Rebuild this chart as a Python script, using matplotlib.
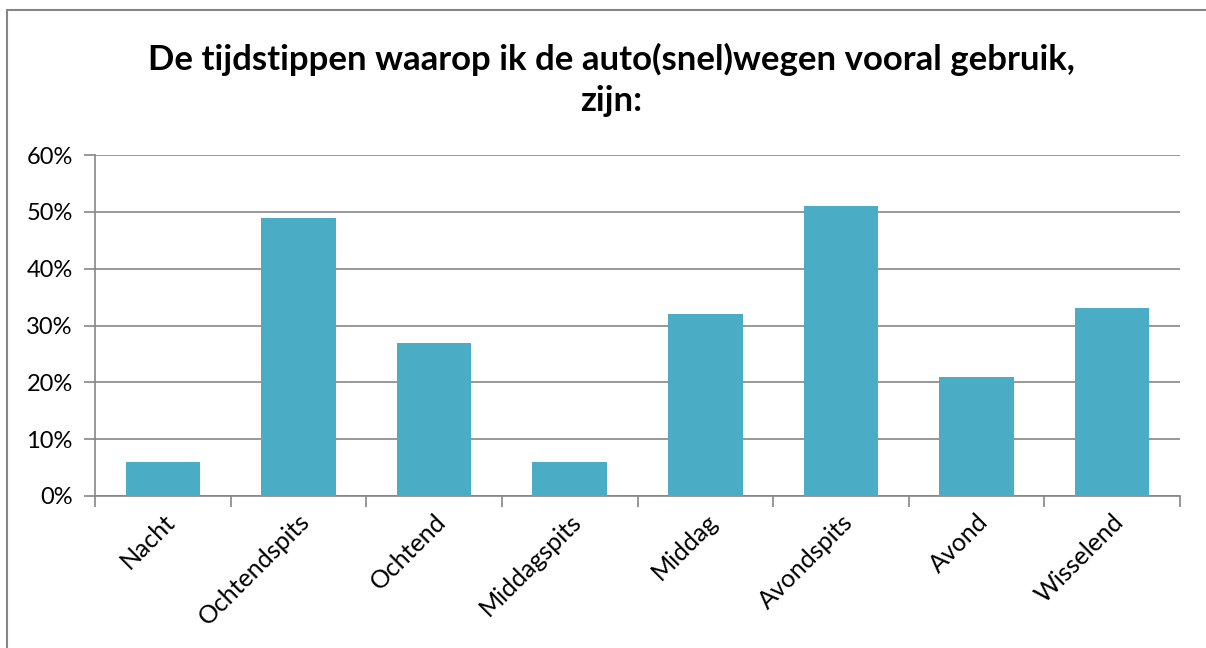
import numpy as np
import matplotlib.pyplot as plt
from matplotlib.patches import Rectangle

categories = ['Nacht', 'Ochtendspits', 'Ochtend', 'Middagspits', 'Middag',
              'Avondspits', 'Avond', 'Wisselend']
values = [0.06, 0.49, 0.27, 0.06, 0.32, 0.51, 0.21, 0.33]
yticks = [0, 0.1, 0.2, 0.3, 0.4, 0.5, 0.6]
ytick_labels = ['0%', '10%', '20%', '30%', '40%', '50%', '60%']

plt.rcParams['font.family'] = ['Lato', 'DejaVu Sans']

W, H = 1206, 648
fig = plt.figure(figsize=(W / 100, H / 100), dpi=100)

# outer chart frame (Excel-style)
fig.patches.append(Rectangle((7 / W, -0.05), 1.1, 1 - 10 / H + 0.05,
                             transform=fig.transFigure, fill=False,
                             ec='#868686', lw=1.5))

ax = fig.add_axes([95 / W, (H - 496) / H, (1180 - 95) / W, (496 - 155) / H])

x = np.arange(len(categories))
ax.bar(x, values, width=0.55, color='#4BACC6', zorder=3)

ax.set_xlim(-0.5, len(categories) - 0.5)
ax.set_ylim(0, 0.6)

ax.set_yticks(yticks)
ax.set_yticklabels(ytick_labels, fontsize=17)
ax.grid(axis='y', color='#868686', lw=1.2, zorder=0)

ax.set_xticks(x)
ax.set_xticklabels(categories, rotation=45, ha='right', rotation_mode='anchor',
                   fontsize=18)
ax.tick_params(axis='x', which='major', length=0, pad=10)
ax.set_xticks(np.arange(-0.5, len(categories)), minor=True)
ax.tick_params(axis='x', which='minor', length=8, width=1.2, color='#868686',
               direction='out')
ax.tick_params(axis='y', length=8, width=1.2, color='#868686', pad=8)

for s in ['top', 'right']:
    ax.spines[s].set_visible(False)
for s in ['left', 'bottom']:
    ax.spines[s].set_color('#868686')
    ax.spines[s].set_linewidth(1.2)

fig.text(611 / W, 1 - 80 / H,
         'De tijdstippen waarop ik de auto(snel)wegen vooral gebruik,\nzijn:',
         ha='center', va='center', fontsize=25, fontweight='bold',
         linespacing=1.35)

fig.savefig('out.png', dpi=100)
